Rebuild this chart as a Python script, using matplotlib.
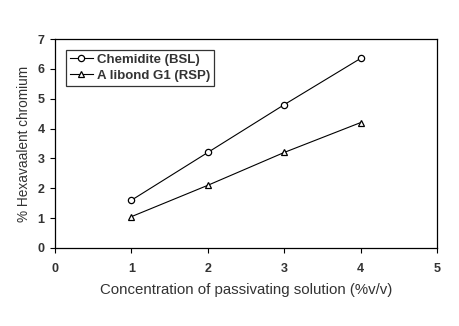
import matplotlib
matplotlib.use('Agg')
import matplotlib.pyplot as plt

plt.rcParams['font.family'] = ['Liberation Sans', 'DejaVu Sans']

conc = [1, 2, 3, 4]
chemidite = [1.6, 3.2, 4.8, 6.35]
alibond = [1.05, 2.1, 3.2, 4.2]

fig = plt.figure(figsize=(4.59, 3.26), dpi=100)
ax = fig.add_axes([55/459, 1 - 248/326, (437-55)/459, (248-39)/326])

ax.plot(conc, chemidite, color='black', lw=0.8, marker='o', ms=4.5,
        mfc='white', mec='black', mew=0.9, label='Chemidite (BSL)')
ax.plot(conc, alibond, color='black', lw=0.8, marker='^', ms=4.5,
        mfc='white', mec='black', mew=0.9, label='A libond G1 (RSP)')

ax.set_xlim(0, 5)
ax.set_ylim(0, 7)
ax.set_xticks(range(6))
ax.set_yticks(range(8))
ax.tick_params(direction='out', length=3.5, width=0.8, labelsize=9,
               labelcolor='#333333')
ax.tick_params(axis='x', pad=7)
ax.tick_params(axis='y', pad=4)
for lab in ax.get_xticklabels() + ax.get_yticklabels():
    lab.set_fontweight('bold')
for s in ax.spines.values():
    s.set_linewidth(0.9)

ax.set_xlabel('Concentration of passivating solution (%v/v)', fontsize=10.8,
              color='#333333', labelpad=6)
ax.set_ylabel('% Hexavaalent chromium', fontsize=9.8, color='#333333', labelpad=5)

leg = ax.legend(loc='upper left', fontsize=9.5, frameon=True, fancybox=False,
                edgecolor='black', handlelength=1.8, handletextpad=0.3,
                borderpad=0.3, labelspacing=0.3, borderaxespad=0.8)
leg.get_frame().set_linewidth(0.9)
for t in leg.get_texts():
    t.set_fontweight('bold')
    t.set_color('#333333')

fig.savefig('out.png', dpi=100)
